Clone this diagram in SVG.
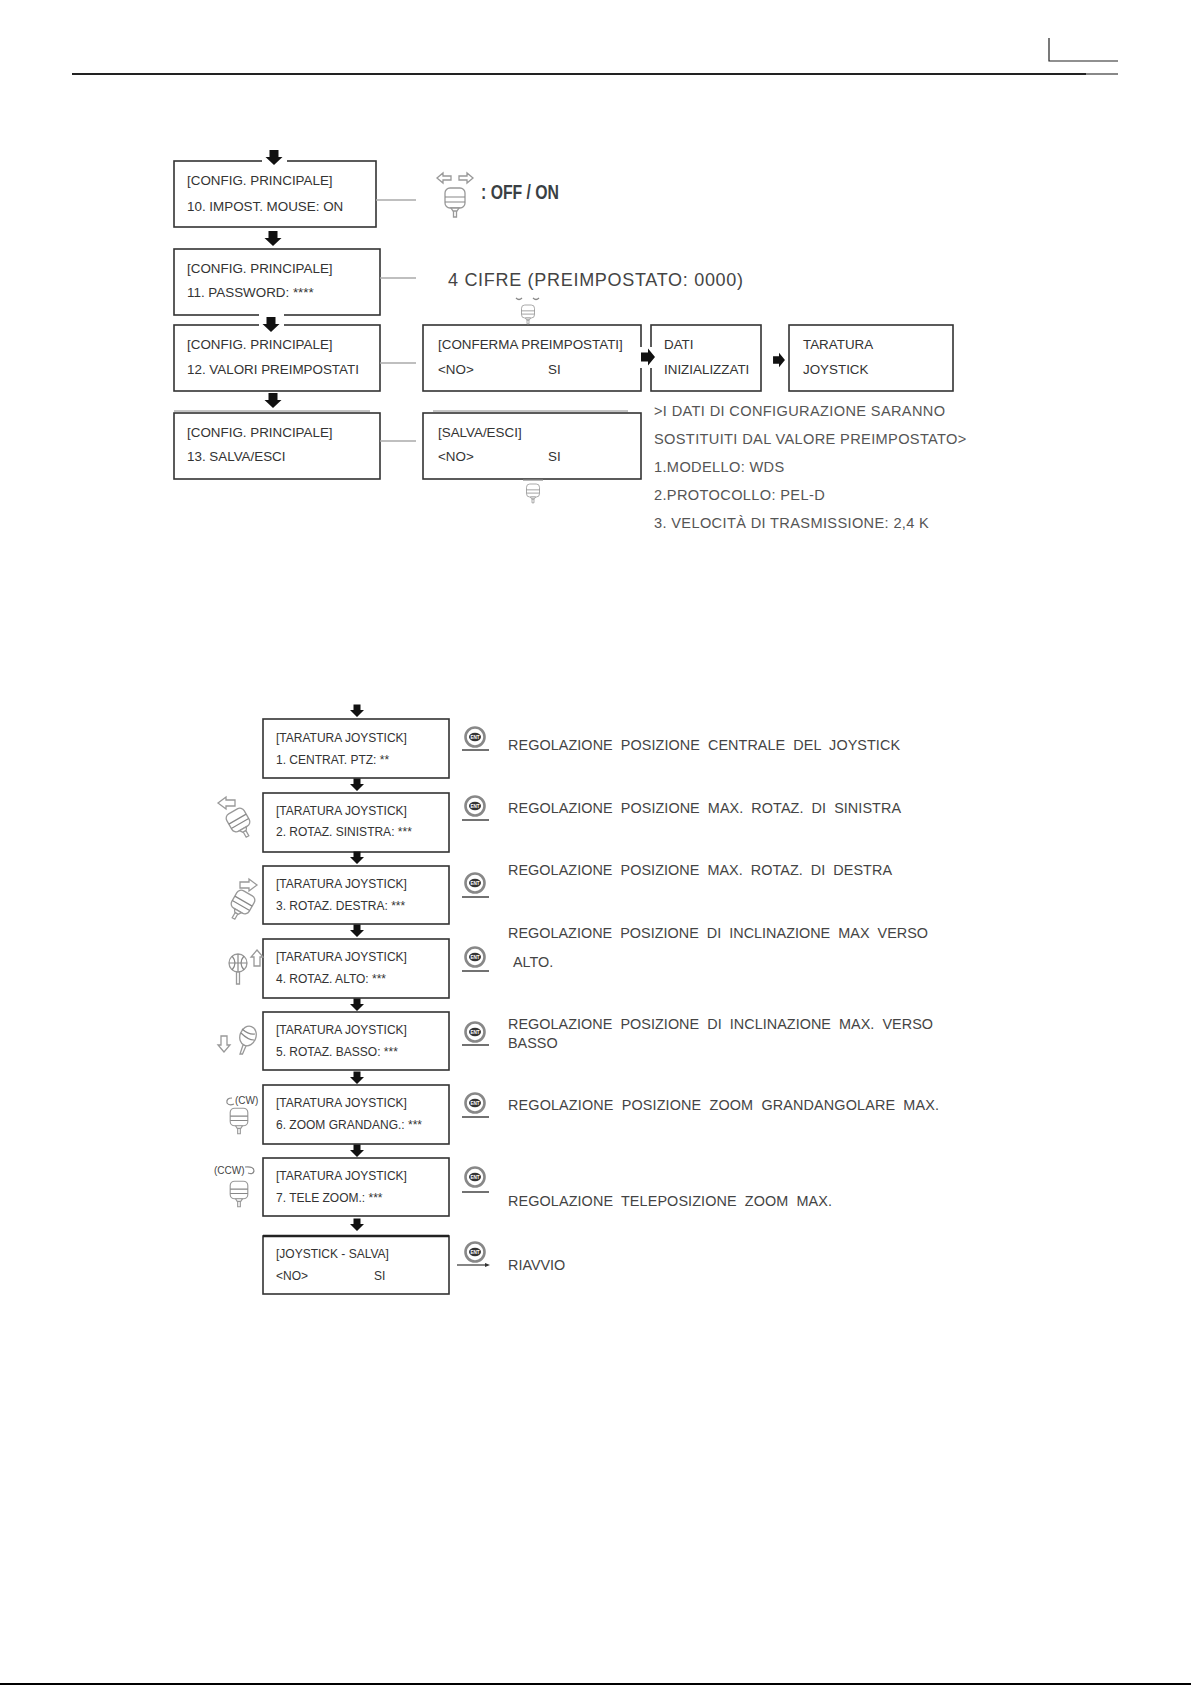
<svg xmlns="http://www.w3.org/2000/svg" width="1191" height="1685" viewBox="0 0 1191 1685">
<style>
.b{fill:#fff;stroke:#333;stroke-width:1.6}
.t{font-family:"Liberation Sans",Arial,sans-serif;font-size:13.4px;fill:#333}
.j{font-family:"Liberation Sans",Arial,sans-serif;font-size:12px;fill:#333}
.r{font-family:"Liberation Sans",Arial,sans-serif;font-size:14.6px;fill:#555;letter-spacing:.35px}
.n{font-family:"Liberation Sans",Arial,sans-serif;font-size:14.4px;fill:#444;word-spacing:4px}
.c{stroke:#aaa;stroke-width:1.4;fill:none}
.g{fill:#fff;stroke:#999;stroke-width:1.3}
.l{fill:none;stroke:#888;stroke-width:1.2}
.u{stroke:#444;stroke-width:1.4;fill:none}
</style>
<defs>
<path id="ad" d="M-4.5-8H4.5V-1H8.5L0 7L-8.5-1H-4.5Z" fill="#111"/>
<path id="as" d="M-3.5-6.5H3.5V-1H7L0 6L-7-1H-3.5Z" fill="#111"/>
<path id="ar" d="M-7-4.5H0V-8.5L7 0L0 8.5V4.5H-7Z" fill="#111"/>
<g id="joy"><rect x="-10" y="-10" width="20" height="20" rx="5" class="g"/><path d="M-10-1H10M-10 4H10" class="l"/><path d="M-4 10L-2 13H2L4 10ZM-1.5 13V19H1.5V13Z" class="g"/></g>
<g id="ent"><circle r="9.5" fill="#fff" stroke="#888" stroke-width="2.6"/><ellipse rx="6" ry="4.2" fill="#333"/><text y="1.8" text-anchor="middle" font-family="Liberation Sans,sans-serif" font-size="4.6" font-weight="bold" fill="#fff">ENT</text></g>
</defs>
<rect width="1191" height="1685" fill="#fff"/>
<g id="header"><path d="M72 74H1086" stroke="#222" stroke-width="2"/><path d="M1086 74H1118" stroke="#888" stroke-width="2"/><path d="M1049 38V61H1118" fill="none" stroke="#222" stroke-width="1.2"/></g>
<path d="M0 1684H1191" stroke="#000" stroke-width="2"/>
<path d="M174 411H370M433 411H628" stroke="#888" stroke-width="1"/>
<g id="n10"><rect class="b" x="174" y="161" width="202" height="66"/><text class="t" x="187" y="185">[CONFIG. PRINCIPALE]</text><text class="t" x="187" y="211">10. IMPOST. MOUSE: ON</text></g>
<g id="n11"><rect class="b" x="174" y="249" width="206" height="66"/><text class="t" x="187" y="273">[CONFIG. PRINCIPALE]</text><text class="t" x="187" y="297">11. PASSWORD: ****</text></g>
<g id="n12"><rect class="b" x="174" y="325" width="206" height="66"/><text class="t" x="187" y="349">[CONFIG. PRINCIPALE]</text><text class="t" x="187" y="374">12. VALORI PREIMPOSTATI</text></g>
<g id="n13"><rect class="b" x="174" y="413" width="206" height="66"/><text class="t" x="187" y="437">[CONFIG. PRINCIPALE]</text><text class="t" x="187" y="461">13. SALVA/ESCI</text></g>
<g id="conferma"><rect class="b" x="423" y="325" width="218" height="66"/><text class="t" x="438" y="349">[CONFERMA PREIMPOSTATI]</text><text class="t" x="438" y="374">&lt;NO&gt;</text><text class="t" x="548" y="374">SI</text></g>
<g id="salva"><rect class="b" x="423" y="413" width="218" height="66"/><text class="t" x="438" y="437">[SALVA/ESCI]</text><text class="t" x="438" y="461">&lt;NO&gt;</text><text class="t" x="548" y="461">SI</text></g>
<g id="dati"><rect class="b" x="651" y="325" width="110" height="66"/><text class="t" x="664" y="349">DATI</text><text class="t" x="664" y="374">INIZIALIZZATI</text></g>
<g id="taratura"><rect class="b" x="789" y="325" width="164" height="66"/><text class="t" x="803" y="349">TARATURA</text><text class="t" x="803" y="374">JOYSTICK</text></g>
<g id="note-offon"><use href="#joy" transform="translate(455 198)"/><path class="g" d="M437 178L443 173V176H451V180H443V183ZM473 178L467 173V176H459V180H467V183Z"/><text x="481" y="199" font-family="Liberation Sans,sans-serif" font-size="20" font-weight="bold" fill="#3a3f44" textLength="78" lengthAdjust="spacingAndGlyphs">: OFF / ON</text></g>
<g id="note-cifre"><text x="448" y="286" font-family="Liberation Sans,sans-serif" font-size="18" fill="#444" textLength="295">4 CIFRE (PREIMPOSTATO: 0000)</text></g>
<g id="joy-conferma"><use href="#joy" transform="translate(528 311.5) scale(.65)"/><path class="l" d="M516 298Q519 301 522 298M533 298Q536 301 539 298"/></g>
<g id="joy-salva"><use href="#joy" transform="translate(533 490.5) scale(.65)"/><path class="l" d="M523 480H543"/></g>
<g id="note-dati"><text class="r" x="654" y="416">&gt;I DATI DI CONFIGURAZIONE SARANNO</text><text class="r" x="654" y="444">SOSTITUITI DAL VALORE PREIMPOSTATO&gt;</text><text class="r" x="654" y="472">1.MODELLO: WDS</text><text class="r" x="654" y="500">2.PROTOCOLLO: PEL-D</text><text class="r" x="654" y="528">3. VELOCITÀ DI TRASMISSIONE: 2,4 K</text></g>
<g id="j1"><rect class="b" x="263" y="719" width="186" height="59"/><text class="j" x="276" y="742">[TARATURA JOYSTICK]</text><text class="j" x="276" y="764">1. CENTRAT. PTZ: **</text></g>
<g id="j2"><rect class="b" x="263" y="793" width="186" height="59"/><text class="j" x="276" y="815">[TARATURA JOYSTICK]</text><text class="j" x="276" y="836">2. ROTAZ. SINISTRA: ***</text></g>
<g id="j3"><rect class="b" x="263" y="866" width="186" height="58"/><text class="j" x="276" y="888">[TARATURA JOYSTICK]</text><text class="j" x="276" y="910">3. ROTAZ. DESTRA: ***</text></g>
<g id="j4"><rect class="b" x="263" y="939" width="186" height="59"/><text class="j" x="276" y="961">[TARATURA JOYSTICK]</text><text class="j" x="276" y="983">4. ROTAZ. ALTO: ***</text></g>
<g id="j5"><rect class="b" x="263" y="1012" width="186" height="58"/><text class="j" x="276" y="1034">[TARATURA JOYSTICK]</text><text class="j" x="276" y="1056">5. ROTAZ. BASSO: ***</text></g>
<g id="j6"><rect class="b" x="263" y="1085" width="186" height="59"/><text class="j" x="276" y="1107">[TARATURA JOYSTICK]</text><text class="j" x="276" y="1129">6. ZOOM GRANDANG.: ***</text></g>
<g id="j7"><rect class="b" x="263" y="1158" width="186" height="58"/><text class="j" x="276" y="1180">[TARATURA JOYSTICK]</text><text class="j" x="276" y="1202">7. TELE ZOOM.: ***</text></g>
<g id="j8"><rect class="b" x="263" y="1236" width="186" height="58"/><path d="M263 1236H449" stroke="#222" stroke-width="2.4"/><text class="j" x="276" y="1258">[JOYSTICK - SALVA]</text><text class="j" x="276" y="1280">&lt;NO&gt;</text><text class="j" x="374" y="1280">SI</text></g>
<g id="icons-left">
<g transform="translate(238 820) rotate(-30)"><use href="#joy"/></g>
<path class="g" d="M218 803L226 797V800H235V806H226V809Z"/>
<g transform="translate(243 902) rotate(30)"><use href="#joy"/></g>
<path class="g" d="M257 885L249 879V882H240V888H249V891Z"/>
<circle class="g" cx="238" cy="963" r="9"/><path class="l" d="M229 963H247M238 954V972M232 956Q238 963 232 970M244 956Q238 963 244 970"/><path class="g" d="M236.500 972H239.500V984H236.500Z"/>
<path class="g" d="M257 950L263 957H260V966H254V957H251Z"/>
<path class="g" d="M224 1052L218 1045H221V1036H227V1045H230Z"/>
<ellipse class="g" cx="248" cy="1036" rx="8" ry="10" transform="rotate(20 248 1036)"/><path class="l" d="M241 1033Q248 1040 254 1040M242 1029Q249 1035 255 1034"/><path class="g" d="M243 1045L240 1054H242.500L246 1046Z"/>
<use href="#joy" transform="translate(239 1117) scale(.88)"/>
<path class="l" d="M232 1098Q226 1098 227 1103Q229 1106 234 1104" stroke-width="1.6"/>
<text x="235" y="1104" font-family="Liberation Sans,sans-serif" font-size="10" fill="#444">(CW)</text>
<use href="#joy" transform="translate(239 1190) scale(.88)"/>
<path class="l" d="M245 1167Q254 1166 254 1171Q253 1175 248 1173" stroke-width="1.6"/>
<text x="214" y="1174" font-family="Liberation Sans,sans-serif" font-size="10" fill="#444">(CCW)</text>
</g>
<g id="ents"><use href="#ent" x="475" y="737"/><use href="#ent" x="475" y="806"/><use href="#ent" x="475" y="883"/><use href="#ent" x="475" y="957"/><use href="#ent" x="475" y="1032"/><use href="#ent" x="475" y="1103"/><use href="#ent" x="475" y="1177"/><use href="#ent" x="475" y="1252"/></g>
<g id="notes-right">
<text class="n" x="508" y="750" textLength="392">REGOLAZIONE POSIZIONE CENTRALE DEL JOYSTICK</text>
<text class="n" x="508" y="813" textLength="393">REGOLAZIONE POSIZIONE MAX. ROTAZ. DI SINISTRA</text>
<text class="n" x="508" y="875" textLength="384">REGOLAZIONE POSIZIONE MAX. ROTAZ. DI DESTRA</text>
<text class="n" x="508" y="938" textLength="420">REGOLAZIONE POSIZIONE DI INCLINAZIONE MAX VERSO</text>
<text class="n" x="513" y="967">ALTO.</text>
<text class="n" x="508" y="1029" textLength="425">REGOLAZIONE POSIZIONE DI INCLINAZIONE MAX. VERSO</text>
<text class="n" x="508" y="1048">BASSO</text>
<text class="n" x="508" y="1110" textLength="431">REGOLAZIONE POSIZIONE ZOOM GRANDANGOLARE MAX.</text>
<text class="n" x="508" y="1206" textLength="324">REGOLAZIONE TELEPOSIZIONE ZOOM MAX.</text>
<text class="n" x="508" y="1270">RIAVVIO</text>
</g>
<g id="connectors">
<path class="c" d="M376 200H416M380 278H416M380 363H416M380 441H416"/>
<path fill="#fff" d="M262 156H287V164H262ZM259 313H284V328H259ZM638 347H654V368H638Z"/>
<use href="#ad" x="274" y="158"/><use href="#ad" x="273" y="239"/><use href="#ad" x="271" y="325"/><use href="#ad" x="273" y="401"/>
<use href="#ar" x="648" y="357"/><use href="#ar" transform="translate(779 360) scale(.85)"/>
<use href="#as" x="357" y="711"/><use href="#as" x="357" y="785"/><use href="#as" x="357" y="858"/><use href="#as" x="357" y="931"/><use href="#as" x="357" y="1005"/><use href="#as" x="357" y="1078"/><use href="#as" x="357" y="1151"/><use href="#as" x="357" y="1225"/>
<path class="u" d="M462 750H489M462 820H489M462 897H489M462 971H489M462 1045H489M462 1117H489M462 1192H489"/>
<path d="M457 1265H486" stroke="#333" stroke-width="1.2"/><path d="M490 1265L485 1263V1267Z" fill="#333"/>
</g>
</svg>
